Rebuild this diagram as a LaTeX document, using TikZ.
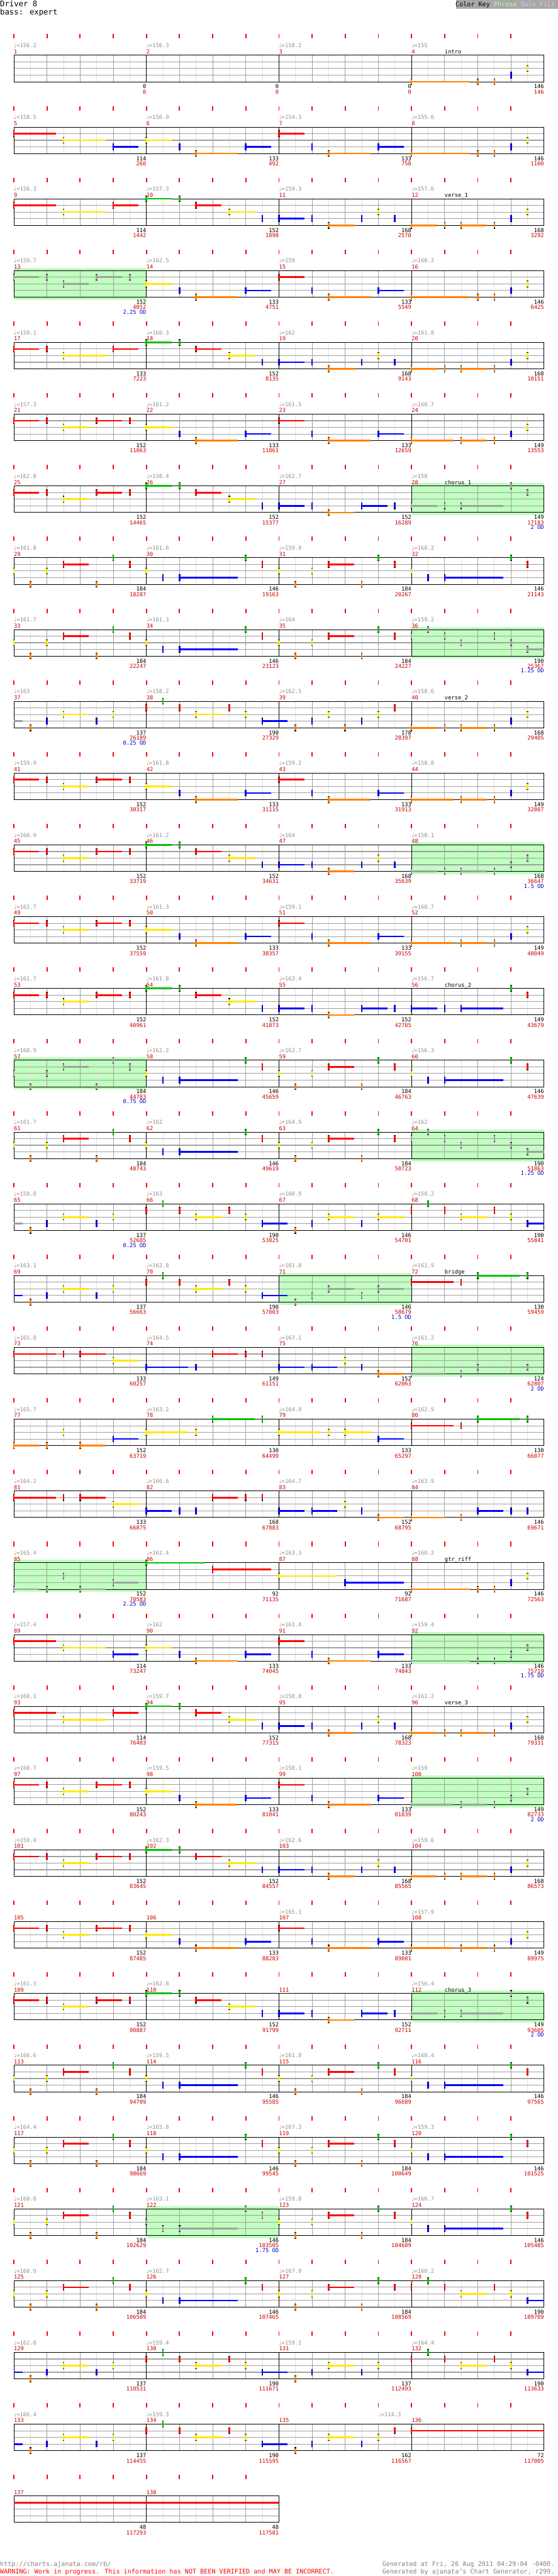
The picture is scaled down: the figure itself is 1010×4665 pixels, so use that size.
\documentclass[tikz,border=0pt]{standalone}
\usepackage{fontspec}
\setmainfont{DejaVu Sans Mono}
\newfontfamily\notefont{DejaVu Sans}
\usepackage{tikz}

\definecolor{lane0}{HTML}{00C000}
\definecolor{lane1}{HTML}{FF0000}
\definecolor{lane2}{HTML}{FFE800}
\definecolor{lane3}{HTML}{0000FF}
\definecolor{lane4}{HTML}{FF8000}
\definecolor{spnote}{HTML}{A0A0A0}
\definecolor{spfill}{HTML}{C0FFC0}
\definecolor{halfgrey}{HTML}{E0E0E0}
\definecolor{beatgrey}{HTML}{A0A0A0}
\definecolor{tickred}{HTML}{FF0000}
\definecolor{tempogrey}{HTML}{909090}
\definecolor{numred}{HTML}{CC0000}
\definecolor{odblue}{HTML}{0000CC}
\definecolor{keygrey}{HTML}{A8A8A8}
\definecolor{phrasec}{HTML}{B0FFB0}
\definecolor{soloc}{HTML}{C8C8FF}
\definecolor{fillc}{HTML}{FFC0C0}
\definecolor{footgrey}{HTML}{808080}

% note patterns: position (1/16) / lane / sustain
\def\patRiff{0/4/7,8/4/0,10/4/0,12/3/0,14/2/0}
\def\patRiffB{0/4/3,4/4/0,6/4/3,10/4/0,12/3/0,14/2/0}
\def\patRiffC{0/4/5,6/4/3,10/4/0,12/3/0,14/2/0}
\def\patA{0/1/5,6/2/5,12/3/3}
\def\patAb{0/1/5,6/2/5,12/1/3}
\def\patE{0/1/3,4/1/0,6/2/5,12/1/3}
\def\patF{0/1/3,4/1/0,6/2/3,10/1/3,14/1/0}
\def\patQ{0/2/3,4/3/0,6/4/5,12/3/3}
\def\patR{0/1/3,4/3/0,6/4/5,12/3/3}
\def\patG{0/0/3,4/0/0,6/1/3,10/2/3,14/3/0}
\def\patH{0/3/3,4/3/0,6/4/3,10/3/0,12/2/0,14/3/0}
\def\patHb{0/3/3,4/3/0,6/4/3,10/3/3,14/3/0}
\def\patC{0/3/3,4/3/0,6/3/5,12/0/0,14/1/0}
\def\patK{0/2/0,2/4/0,4/2/0,6/1/3,10/4/0,12/0/0,14/1/0}
\def\patL{0/2/0,2/3/0,4/3/7,12/0/0,14/1/0}
\def\patO{0/1/0,2/0/0,4/1/0,6/2/3,10/1/0,12/2/0,14/3/3}
\def\patN{2/4/0,4/3/0,6/2/3,10/3/0,12/2/0}
\def\patS{2/4/0,4/3/0,6/2/0,8/4/0,10/3/0,12/2/0,14/1/0}
\def\patT{2/4/0,4/3/0,6/2/3,10/3/0,12/2/3}
\def\patTb{2/4/0,4/3/0,6/2/3,10/3/0,12/2/0,14/1/0}
\def\patB{0/1/5,6/1/0,8/0/5,14/0/0}
\def\patU{0/1/5,6/1/0,8/1/3,12/2/3}
\def\patV{0/3/5,6/3/0,8/1/3,12/1/0,14/1/0}
\def\patVb{0/3/3,4/3/0,6/3/0,8/1/3,12/1/0,14/1/0}
\def\patW{0/3/3,4/3/3,8/2/0,10/3/0,12/4/3}
\def\patX{0/4/4,6/4/0,8/3/4,14/3/0}
\def\patXb{0/4/4,6/4/0,8/3/3,12/3/0,14/3/0}
\def\patY{0/4/3,4/4/0,6/2/0,8/4/3,12/3/3}
\def\patZ{0/2/5,6/2/0,8/0/5,14/0/0}
\def\patZb{0/2/5,6/2/0,8/2/3,12/3/3}
\def\patDa{0/0/7,8/1/7}
\def\patDb{0/2/7,8/3/7}
\def\patEnd{0/1/16}

\def\songmap{4/Riff,5/A,6/Q,7/R,8/Riff,9/Ab,10/G,11/H,12/RiffB,13/F,14/Q,15/R,16/Riff,
17/E,18/G,19/H,20/RiffB,21/F,22/Q,23/R,24/RiffC,25/F,26/G,27/Hb,28/C,
29/K,30/L,31/K,32/L,33/K,34/L,35/K,36/O,37/N,38/O,39/S,40/RiffB,
41/F,42/Q,43/R,44/RiffC,45/F,46/G,47/H,48/RiffB,49/F,50/Q,51/R,52/RiffC,
53/F,54/G,55/Hb,56/C,57/K,58/L,59/K,60/L,61/K,62/L,63/K,64/O,
65/N,66/O,67/T,68/O,69/N,70/O,71/T,72/B,73/U,74/V,75/W,76/X,
77/Y,78/Z,79/Zb,80/B,81/U,82/Vb,83/W,84/Xb,85/Y,86/Da,87/Db,88/Riff,
89/A,90/Q,91/R,92/Riff,93/Ab,94/G,95/H,96/RiffB,97/F,98/Q,99/R,100/RiffC,
101/F,102/G,103/H,104/RiffB,105/F,106/Q,107/R,108/RiffC,109/F,110/G,111/Hb,112/C,
113/K,114/L,115/K,116/L,117/K,118/L,119/K,120/L,121/K,122/L,123/K,124/L,
125/K,126/L,127/K,128/O,129/N,130/O,131/N,132/O,133/N,134/O,135/Tb,136/End}

\def\splist{13,28,36,48,57,64,71,76,85,92,100,112,122}

\begin{document}
\begin{tikzpicture}[
  x=1pt, y=-1pt,
  lbl/.style={inner sep=0pt, font=\fontsize{10}{12}\selectfont},
  tempo/.style={lbl, anchor=base west, text=tempogrey},
  mnum/.style={lbl, anchor=base west, text=numred},
  sect/.style={lbl, anchor=base west, text=black},
  cnt/.style={lbl, anchor=base east, text=black},
  score/.style={lbl, anchor=base east, text=numred},
  odlbl/.style={lbl, anchor=base east, text=odblue},
  halfline/.style={draw=halfgrey, line width=1pt},
  beatline/.style={draw=beatgrey, line width=1pt},
  laneline/.style={draw=beatgrey, line width=1.3pt},
  barline/.style={draw=black, line width=1pt},
  beattick/.style={draw=tickred, line width=2pt},
  big/.style={inner sep=0pt, anchor=base west, font=\fontsize{14}{16}\selectfont},
  foot/.style={inner sep=0pt, font=\fontsize{11.5}{13}\selectfont}
]
\useasboundingbox (0,0) rectangle (1010,4665);

\node[big] (title) at (0,12.5) {Driver 8};
\node[big] (part) at (0,26.5) {bass: expert};
\fill[keygrey] (826,0) rectangle (1010,15.5);
\node[foot, anchor=base east] (colorkey) at (1005,11.5)
  {Color Key \textcolor{phrasec}{Phrase} \textcolor{soloc}{Solo} \textcolor{fillc}{Fill}};

\foreach \meas in \splist {
  \expandafter\xdef\csname spm\meas\endcsname{1}
  \pgfmathtruncatemacro\rw{(\meas-1)/4}
  \pgfmathtruncatemacro\cl{\meas-1-4*\rw}
  \fill[spfill] (25+240*\cl,95+130*\rw) rectangle (265+240*\cl,153+130*\rw);
}

\foreach \rw in {0,...,34} {
  \pgfmathsetmacro\ty{100+130*\rw}
  \ifnum\rw<34 \def\nm{4}\else \def\nm{2}\fi
  \pgfmathsetmacro\rx{25+240*\nm}
  \pgfmathtruncatemacro\ne{8*\nm-1}
  \pgfmathtruncatemacro\nb{4*\nm-1}
  \pgfmathtruncatemacro\nmm{\nm-1}
  \foreach \k in {1,...,\ne} \draw[halfline] (25+30*\k,\ty) -- (25+30*\k,\ty+48);
  \foreach \k in {1,...,\nb} \draw[beatline] (25+60*\k,\ty) -- (25+60*\k,\ty+48);
  \foreach \k in {1,2,3} \draw[laneline] (25,\ty+12*\k) -- (\rx,\ty+12*\k);
  \foreach \k in {1,...,\nmm} \draw[barline] (25+240*\k,\ty) -- (25+240*\k,\ty+48);
  \draw[barline] (25,\ty) rectangle (\rx,\ty+48);
  \foreach \k in {0,...,\nb} \draw[beattick] (25+60*\k,\ty-38) -- (25+60*\k,\ty-30);
}

\foreach \meas/\pat in \songmap {
  \pgfmathtruncatemacro\rw{(\meas-1)/4}
  \pgfmathtruncatemacro\cl{\meas-1-4*\rw}
  \ifcsname spm\meas\endcsname \def\nc{spnote}\else \def\nc{}\fi
  \edef\plist{\csname pat\pat\endcsname}
  \foreach \pos/\lane/\len in \plist {
    \pgfmathsetmacro\nx{25+240*\cl+15*\pos}
    \pgfmathsetmacro\ny{100+130*\rw+12*\lane}
    \ifx\nc\empty \edef\tc{lane\lane}\else \edef\tc{\nc}\fi
    \ifnum\len>0
      \pgfmathsetmacro\ex{min(\nx+15*\len+1,985)}
      \fill[fill=\tc] (\nx,\ny-1.5) rectangle (\ex,\ny+1.5);
    \fi
    \fill[black] (\nx-1.5,\ny-6) rectangle (\nx+1.5,\ny+6);
    \fill[fill=\tc] (\nx-1.5,\ny-4.8) rectangle (\nx+1.5,\ny+4.8);
  }
}

\foreach \rw/\lane/\len/\tc in {9/3/1/spnote,16/3/1/spnote,17/3/1/lane3,
    32/3/1/lane3,33/3/1/lane3,34/1/31.93/lane1} {
  \pgfmathsetmacro\ny{100+130*\rw+12*\lane}
  \fill[fill=\tc] (25,\ny-1.5) rectangle (25+15*\len+1,\ny+1.5);
}

\foreach \meas/\bpm/\cnum/\scr in {1/156.2/0/0,2/156.3/0/0,3/158.2/0/0,4/155/146/146,
  5/158.5/114/260,6/156.9/133/492,7/154.3/133/758,8/155.6/146/1100,
  9/156.3/114/1442,10/157.3/152/1898,11/159.3/168/2570,12/157.6/168/3292,
  13/159.7/152/4052,14/162.5/133/4751,15/159/133/5549,16/160.2/146/6425,
  17/159.1/133/7223,18/160.3/152/8135,19/162/168/9143,20/161.8/168/10151,
  21/157.3/152/11063,22/161.2/133/11861,23/161.5/133/12659,24/160.7/149/13553,
  25/162.8/152/14465,26/158.4/152/15377,27/162.7/152/16289,28/158/149/17183,
  29/161.8/184/18287,30/161.6/146/19163,31/159.9/184/20267,32/160.2/146/21143,
  33/161.7/184/22247,34/161.3/146/23123,35/164/184/24227,36/159.2/190/25367,
  37/163/137/26189,38/158.2/190/27329,39/162.5/178/28397,40/158.6/168/29405,
  41/159.9/152/30317,42/161.8/133/31115,43/159.2/133/31913,44/158.8/149/32807,
  45/160.9/152/33719,46/161.2/152/34631,47/164/168/35639,48/158.1/168/36647,
  49/162.7/152/37559,50/161.3/133/38357,51/159.1/133/39155,52/160.7/149/40049,
  53/161.7/152/40961,54/161.8/152/41873,55/163.4/152/42785,56/156.7/149/43679,
  57/160.9/184/44783,58/162.2/146/45659,59/163.7/184/46763,60/156.3/146/47639,
  61/161.7/184/48743,62/162/146/49619,63/164.9/184/50723,64/162/190/51863,
  65/158.8/137/52685,66/163/190/53825,67/160.9/146/54701,68/158.2/190/55841,
  69/163.1/137/56663,70/162.8/190/57803,71/161.8/146/58679,72/161.9/130/59459,
  73/165.8/133/60257,74/164.5/149/61151,75/167.1/152/62063,76/161.2/124/62807,
  77/165.7/152/63719,78/163.2/130/64499,79/164.9/133/65297,80/162.9/130/66077,
  81/164.2/133/66875,82/166.6/168/67883,83/164.7/152/68795,84/163.9/146/69671,
  85/165.4/152/70583,86/162.4/92/71135,87/163.3/92/71687,88/160.2/146/72563,
  89/157.4/114/73247,90/162/133/74045,91/161.4/133/74843,92/159.4/146/75719,
  93/160.1/114/76403,94/159.7/152/77315,95/158.8/168/78323,96/161.2/168/79331,
  97/160.7/152/80243,98/159.5/133/81041,99/158.1/133/81839,100/159/149/82733,
  101/159.4/152/83645,102/162.3/152/84557,103/162.6/168/85565,104/159.6/168/86573,
  105/0/152/87485,106/0/133/88283,107/165.1/133/89081,108/157.9/149/89975,
  109/161.3/152/90887,110/162.8/152/91799,111/0/152/92711,112/156.4/149/93605,
  113/166.6/184/94709,114/159.5/146/95585,115/161.8/184/96689,116/160.4/146/97565,
  117/164.4/184/98669,118/165.8/146/99545,119/167.3/184/100649,120/159.3/146/101525,
  121/160.8/184/102629,122/163.1/146/103505,123/159.8/184/104609,124/166.7/146/105485,
  125/160.9/184/106589,126/162.7/146/107465,127/167.9/184/108569,128/160.2/190/109709,
  129/162.8/137/110531,130/159.4/190/111671,131/159.1/137/112493,132/164.4/190/113633,
  133/166.4/137/114455,134/159.3/190/115595,135/0/162/116567,136/0/72/117005,
  137/0/48/117293,138/0/48/117581} {
  \pgfmathtruncatemacro\rw{(\meas-1)/4}
  \pgfmathtruncatemacro\cl{\meas-1-4*\rw}
  \pgfmathsetmacro\mx{25+240*\cl}
  \pgfmathsetmacro\ty{100+130*\rw}
  \ifdim\bpm pt>0pt \node[tempo] (tempo\meas) at (\mx,\ty-14) {{\notefont ♩}=\bpm}; \fi
  \node[mnum] (mnum\meas) at (\mx,\ty-3) {\meas};
  \node[cnt] (cnt\meas) at (\mx+240,\ty+60.5) {\cnum};
  \node[score] (score\meas) at (\mx+240,\ty+70) {\scr};
}
\node[tempo] (tempoX) at (685,4376) {{\notefont ♩}=114.3};

\foreach \meas/\od in {13/2.25,28/2,36/1.25,37/0.25,48/1.5,57/0.75,64/1.25,65/0.25,
    71/1.5,76/2,85/2.25,92/1.75,100/2,112/2,122/1.75} {
  \pgfmathtruncatemacro\rw{(\meas-1)/4}
  \pgfmathtruncatemacro\cl{\meas-1-4*\rw}
  \node[odlbl] (od\meas) at (265+240*\cl,178.5+130*\rw) {\od{} OD};
}

\foreach \meas/\name in {4/intro,12/verse\_1,28/chorus\_1,40/verse\_2,56/chorus\_2,
    72/bridge,88/gtr\_riff,96/verse\_3,112/chorus\_3} {
  \pgfmathtruncatemacro\rw{(\meas-1)/4}
  \pgfmathtruncatemacro\cl{\meas-1-4*\rw}
  \node[sect] (sec\meas) at (85+240*\cl,97+130*\rw) {\name};
}

\node[foot, anchor=base west, text=footgrey] (url) at (0,4647) {http://charts.ajanata.com/rb/};
\node[foot, anchor=base west, text=lane1] (warning) at (0,4661)
  {WARNING: Work in progress. This information has NOT BEEN VERIFIED and MAY BE INCORRECT.};
\node[foot, anchor=base east, text=footgrey] (genat) at (1004,4647)
  {Generated at Fri, 26 Aug 2011 04:29:04 -0400.};
\node[foot, anchor=base east, text=footgrey] (genby) at (1004,4661)
  {Generated by ajanata's Chart Generator, r299.};
\end{tikzpicture}
\end{document}
